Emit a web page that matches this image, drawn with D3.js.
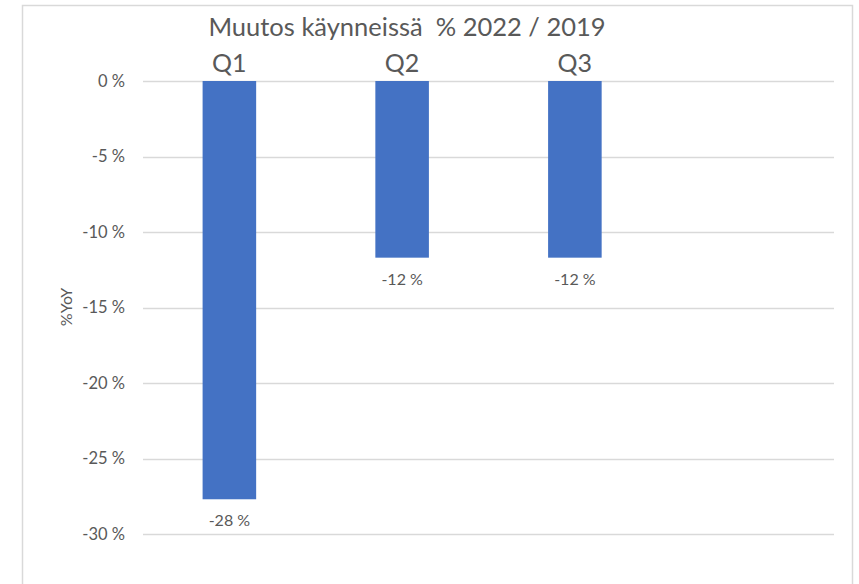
<!DOCTYPE html>
<html>
<head>
<meta charset="utf-8">
<script src="https://cdn.jsdelivr.net/npm/d3@7"></script>
<style>
  body { margin: 0; background: #fff; }
  svg text { font-family: Lato, "Open Sans", sans-serif; fill: #595959; }
</style>
</head>
<body>
<div id="chart"></div>
<script>
const categories = ['Q1', 'Q2', 'Q3', ''];
const values = [-0.277, -0.117, -0.117, null];
const y_ticks = [0, -0.05, -0.10, -0.15, -0.20, -0.25, -0.30];
const chart_title = 'Muutos käynneissä  % 2022 / 2019';
const y_title = '%YoY';

const width = 859, height = 584;

let svg = d3.select('#chart').append('svg')
    .attr('width', width)
    .attr('height', height);

// outer chart border
svg.append('rect')
    .attr('x', 22.5).attr('y', 5.5)
    .attr('width', 830).attr('height', 620)
    .attr('fill', 'none')
    .attr('stroke', '#d9d9d9')
    .attr('stroke-width', 1.5);

let x = d3.scaleBand()
    .domain(categories.map((c, i) => i))
    .range([143, 834])
    .paddingInner(0.69)
    .paddingOuter(0.345);

let y = d3.scaleLinear()
    .domain([0, -0.30])
    .range([81, 534]);

let fmt = v => Math.round(v * 100) + ' %';

// gridlines
svg.append('g')
    .selectAll('line')
    .data(y_ticks)
    .join('line')
    .attr('x1', 143).attr('x2', 834)
    .attr('y1', d => Math.round(y(d)) + 0.5)
    .attr('y2', d => Math.round(y(d)) + 0.5)
    .attr('stroke', '#d9d9d9')
    .attr('stroke-width', 1.3);

// y axis tick labels
let yAxis = d3.axisLeft(y).tickValues(y_ticks).tickFormat(fmt).tickSize(0).tickPadding(18);
let ya = svg.append('g').attr('transform', 'translate(143,0)').call(yAxis);
ya.select('.domain').remove();
ya.selectAll('text').style('font-size', '16.5px').attr('fill', '#595959');

// bars
let bar_data = values.map((v, i) => ({v, i})).filter(d => d.v !== null);
svg.append('g')
    .selectAll('rect')
    .data(bar_data)
    .join('rect')
    .attr('x', d => x(d.i))
    .attr('width', x.bandwidth())
    .attr('y', y(0))
    .attr('height', d => y(d.v) - y(0))
    .attr('fill', '#4472c4');

// data labels
svg.append('g')
    .selectAll('text')
    .data(bar_data)
    .join('text')
    .attr('x', d => x(d.i) + x.bandwidth() / 2)
    .attr('y', d => y(d.v) + 27)
    .attr('text-anchor', 'middle')
    .style('font-size', '16px')
    .text(d => fmt(d.v));

// category labels on top
svg.append('g')
    .selectAll('text')
    .data(categories)
    .join('text')
    .attr('x', (d, i) => x(i) + x.bandwidth() / 2)
    .attr('y', 72)
    .attr('text-anchor', 'middle')
    .style('font-size', '25px')
    .text(d => d);

// title
svg.append('text')
    .attr('x', 407)
    .attr('y', 36)
    .attr('text-anchor', 'middle')
    .style('font-size', '25.5px')
    .attr('xml:space', 'preserve')
    .text(chart_title);

// y axis title
svg.append('text')
    .attr('transform', 'translate(72,307) rotate(-90)')
    .attr('text-anchor', 'middle')
    .style('font-size', '16px')
    .text(y_title);
</script>
</body>
</html>
